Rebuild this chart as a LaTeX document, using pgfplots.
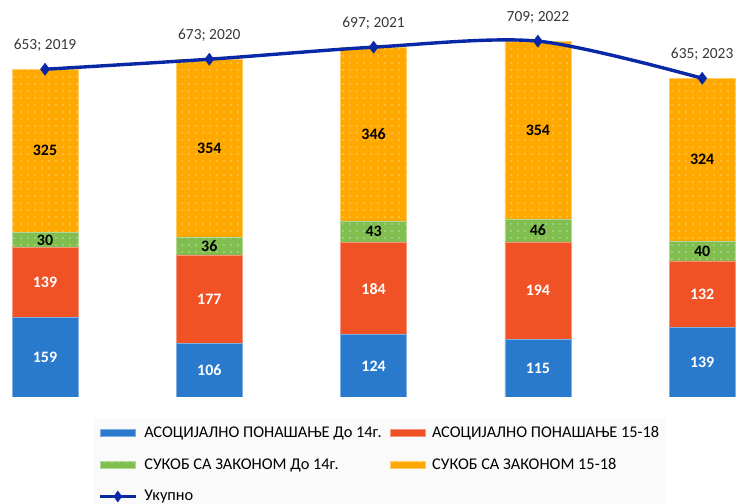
\documentclass[border=0pt]{standalone}
\usepackage{fontspec}
\setmainfont{Carlito}
\usepackage{pgfplots}
\usepackage{pgfplotstable}
\pgfplotsset{compat=1.18}
\usetikzlibrary{patterns.meta}
\definecolor{cblue}{RGB}{41,122,204}
\definecolor{cred}{RGB}{240,82,38}
\definecolor{cgreen}{RGB}{128,190,80}
\definecolor{corange}{RGB}{255,168,0}
\definecolor{cline}{RGB}{8,40,165}
\pgfplotstableread{
x  a   b   c   d   tot  yr
0  159 139 30  325 653  2019
1  106 177 36  354 673  2020
2  124 184 43  346 697  2021
3  115 194 46  354 709  2022
4  139 132 40  324 635  2023
}\data
\pgfplotstablecreatecol[create col/expr={\thisrow{a}/2}]{ma}\data
\pgfplotstablecreatecol[create col/expr={\thisrow{a}+\thisrow{b}/2}]{mb}\data
\pgfplotstablecreatecol[create col/expr={\thisrow{a}+\thisrow{b}+\thisrow{c}/2}]{mc}\data
\pgfplotstablecreatecol[create col/expr={\thisrow{a}+\thisrow{b}+\thisrow{c}+\thisrow{d}/2}]{md}\data
\pgfplotsset{
  /pgf/number format/assume math mode=true,
  base/.style={scale only axis, width=737bp, height=397bp,
    xmin=-0.274, xmax=4.212, ymin=0, ymax=791, hide axis,
    at={(0,107bp)}, anchor=south west},
  lbl/.style={draw=none, mark=none, nodes near coords, point meta=explicit,
    every node near coord/.append style={font=\bfseries\fontsize{16}{16}\selectfont,
      text=#1, anchor=center, inner sep=0pt}},
}
\begin{document}
\begin{tikzpicture}
\begin{axis}[base, ybar stacked, bar width=66bp,
  legend columns=2,
  legend cell align=left,
  legend style={at={(axis description cs:0.1262,-0.053)}, anchor=north west,
    draw=none, fill=black!2, font=\fontsize{16.4}{16.4}\selectfont,
    row sep=15.5bp, column sep=5bp, inner xsep=5bp, inner ysep=6bp},
  /tikz/column 2/.style={column sep=6bp},
  legend image code/.code={\draw[#1] (0bp,-3.5bp) rectangle (35bp,3.5bp);},
]
\addplot[fill=cblue, draw=cblue!60!white, line width=0.6bp]
  table[x=x, y=a] {\data};
\addlegendentry{АСОЦИЈАЛНО ПОНАШАЊЕ До 14г.}
\addplot[fill=cred, draw=cred!60!white, line width=0.6bp]
  table[x=x, y=b] {\data};
\addlegendentry{АСОЦИЈАЛНО ПОНАШАЊЕ 15-18}
\addplot[fill=cgreen, draw=cgreen!60!white, line width=0.6bp,
  postaction={pattern={Dots[distance=7bp, radius=0.6bp]}, pattern color=white}]
  table[x=x, y=c] {\data};
\addlegendentry{СУКОБ СА ЗАКОНОМ До 14г.}
\addplot[fill=corange, draw=corange!60!white, line width=0.6bp,
  postaction={pattern={Dots[distance=7bp, radius=0.6bp]}, pattern color=white}]
  table[x=x, y=d] {\data};
\addlegendentry{СУКОБ СА ЗАКОНОМ 15-18}
\addlegendimage{legend image code/.code={
  \draw[cline, line width=3.2bp] (0bp,0bp) -- (36bp,0bp);
  \fill[cline] (18bp,0bp) +(0,5.5bp) -- +(4bp,0) -- +(0,-5.5bp) -- +(-4bp,0) -- cycle;}}
\addlegendentry{Укупно}
\end{axis}
\begin{axis}[base]
\addplot[lbl=white] table[x=x, y=ma, meta=a] {\data};
\addplot[lbl=white] table[x=x, y=mb, meta=b] {\data};
\addplot[lbl=black] table[x=x, y=mc, meta=c] {\data};
\addplot[lbl=black] table[x=x, y=md, meta=d] {\data};
\addplot[cline, line width=3.4bp, smooth, tension=0.5,
  mark=diamond*, mark size=6bp, mark options={fill=cline, line width=0.5bp},
  point meta=explicit symbolic,
  visualization depends on=y \as \rawy,
  nodes near coords={\pgfmathprintnumber[fixed,precision=0]{\rawy}; \pgfplotspointmeta},
  every node near coord/.append style={font=\fontsize{15.5}{15.5}\selectfont,
    text=black!78, anchor=center, yshift=24bp}]
  table[x=x, y=tot, meta=yr] {\data};
\end{axis}
\pgfresetboundingbox
\path (0,0) rectangle (737bp,504bp);
\end{tikzpicture}
\end{document}
